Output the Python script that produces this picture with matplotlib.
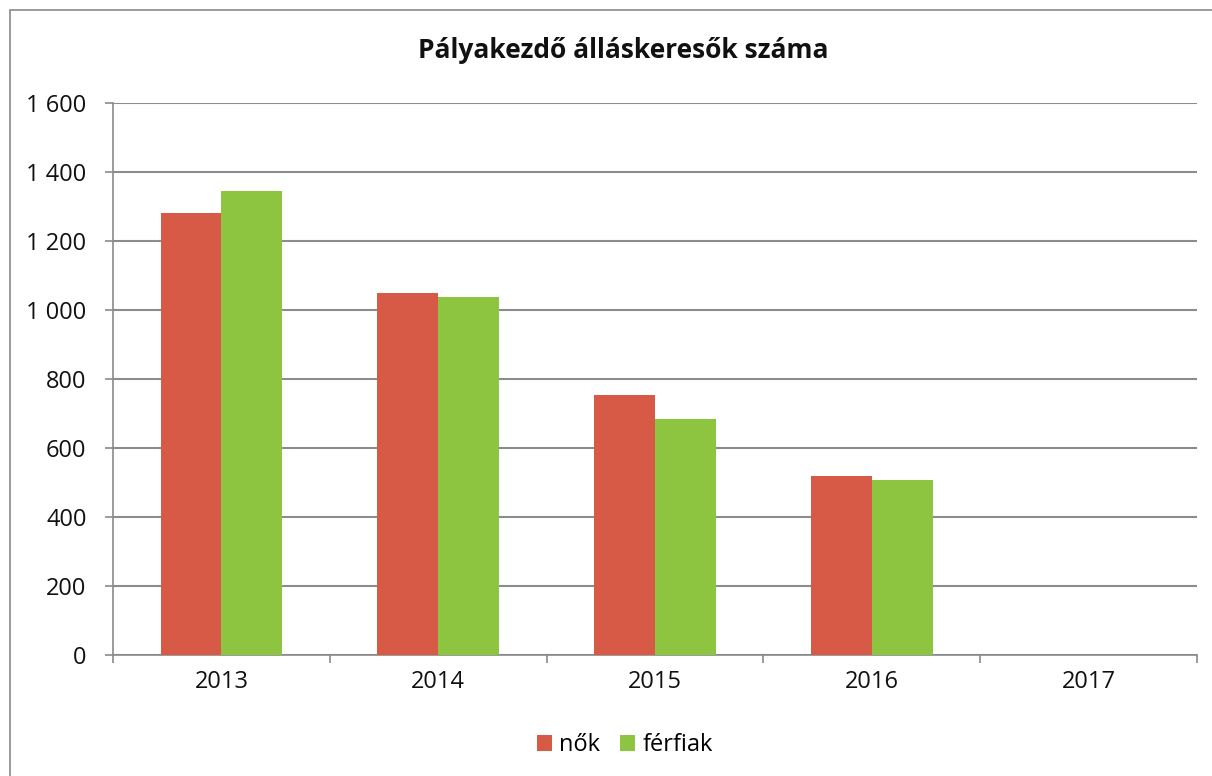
import matplotlib
matplotlib.use("Agg")
import matplotlib.pyplot as plt
from matplotlib.patches import Rectangle
import numpy as np

years = ["2013", "2014", "2015", "2016", "2017"]
nok = [1282, 1048, 753, 520, np.nan]
ferfiak = [1345, 1039, 683, 507, np.nan]
yticks = [0, 200, 400, 600, 800, 1000, 1200, 1400, 1600]
ytick_labels = ["0", "200", "400", "600", "800", "1 000", "1 200", "1 400", "1 600"]

plt.rcParams['font.family'] = ['Open Sans', 'DejaVu Sans']

W, H = 1212, 776
fig = plt.figure(figsize=(W / 100, H / 100), dpi=100)
fig.patch.set_facecolor('white')

# outer chart border
fig.patches.append(Rectangle((10 / W, -0.05), (W + 20) / W, 1 - 10 / H + 0.05,
                             transform=fig.transFigure, fill=False,
                             edgecolor='#8a8a8a', linewidth=1.2))

ax = fig.add_axes([113 / W, 1 - 655 / H, (1197 - 113) / W, (655 - 103) / H])
x = np.arange(len(years))
w = 0.28
c_nok = '#D65A45'
c_fer = '#8EC540'
ax.bar(x - w / 2, nok, width=w, color=c_nok, label='nők', zorder=3)
ax.bar(x + w / 2, ferfiak, width=w, color=c_fer, label='férfiak', zorder=3)

ax.set_xlim(-0.5, len(years) - 0.5)
ax.set_ylim(0, 1600)
ax.set_yticks(yticks)
ax.set_yticklabels(ytick_labels)
ax.set_xticks(x)
ax.set_xticklabels(years)
ax.set_xticks(np.arange(-0.5, len(years)), minor=True)
ax.tick_params(axis='x', which='major', length=0, pad=11, labelsize=17, colors='#111111')
ax.tick_params(axis='x', which='minor', length=6, color='#8a8a8a', width=1.2)
ax.tick_params(axis='y', length=6, color='#8a8a8a', width=1.2, pad=13, labelsize=17, labelcolor='#111111')

ax.grid(axis='y', color='#8c8c8c', linewidth=1.5, zorder=0)
for s in ['top', 'right']:
    ax.spines[s].set_visible(False)
for s in ['left', 'bottom']:
    ax.spines[s].set_color('#8a8a8a')
    ax.spines[s].set_linewidth(1.2)

fig.text(623 / W, 1 - 50 / H, 'Pályakezdő álláskeresők száma', ha='center', va='center',
         fontsize=19, fontweight='bold', color='#111111')

leg = fig.legend(loc='center', bbox_to_anchor=(625 / W, 1 - 745 / H), ncol=2, frameon=False,
                 fontsize=17, handlelength=0.64, handleheight=0.64, handletextpad=0.3,
                 columnspacing=0.85)

fig.savefig('out.png', dpi=100, facecolor='white')
